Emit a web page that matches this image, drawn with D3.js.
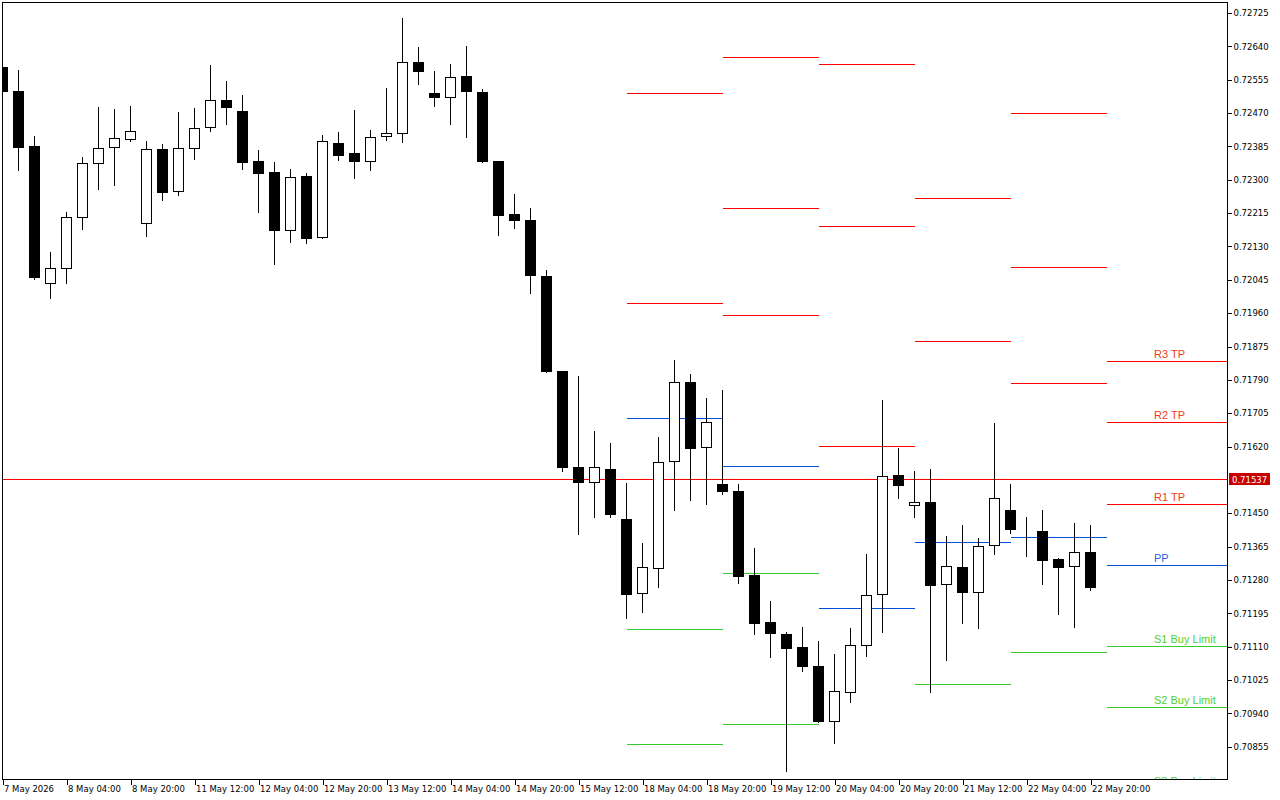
<!DOCTYPE html>
<html><head><meta charset="utf-8">
<script src="https://cdn.jsdelivr.net/npm/d3@7"></script>
<style>body{margin:0;background:#fff;overflow:hidden} svg{display:block}</style>
</head><body>
<svg id="c" width="1280" height="800"></svg>
<script>
// H4 candles, 7 May 2026 12:00 .. 22 May 2026 20:00 (index 0..68)
const opens  = [0.72587,0.72526,0.72386,0.72037,0.72075,0.72205,0.72343,0.72383,0.72404,0.72190,
                0.72378,0.72271,0.72381,0.72434,0.72503,0.72475,0.72348,0.72320,0.72172,0.72310,
                0.72154,0.72394,0.72368,0.72348,0.72411,0.72419,0.72600,0.72521,0.72511,0.72564,
                0.72524,0.72348,0.72213,0.72197,0.72055,0.71812,0.71568,0.71530,0.71563,0.71435,
                0.71247,0.71310,0.71583,0.71784,0.71619,0.71524,0.71507,0.71293,0.71173,0.71142,
                0.71109,0.71061,0.70920,0.70994,0.71114,0.71244,0.71547,0.71471,0.71479,0.71270,
                0.71313,0.71249,0.71369,0.71458,0.71405,0.71405,0.71333,0.71315,0.71351];
const highs  = [0.72592,0.72582,0.72414,0.72118,0.72220,0.72360,0.72488,0.72483,0.72490,0.72401,
                0.72394,0.72475,0.72485,0.72595,0.72554,0.72519,0.72378,0.72348,0.72330,0.72320,
                0.72417,0.72424,0.72480,0.72429,0.72536,0.72715,0.72641,0.72580,0.72598,0.72643,
                0.72534,0.72350,0.72266,0.72231,0.72072,0.71815,0.71802,0.71662,0.71632,0.71530,
                0.71377,0.71647,0.71843,0.71807,0.71746,0.71767,0.71527,0.71364,0.71229,0.71150,
                0.71163,0.71127,0.71094,0.71160,0.71349,0.71741,0.71619,0.71560,0.71565,0.71394,
                0.71423,0.71389,0.71683,0.71527,0.71443,0.71461,0.71338,0.71428,0.71423];
const lows   = [0.72524,0.72325,0.72047,0.71999,0.72037,0.72174,0.72276,0.72287,0.72399,0.72157,
                0.72248,0.72261,0.72353,0.72424,0.72442,0.72327,0.72218,0.72085,0.72141,0.72139,
                0.72151,0.72350,0.72304,0.72325,0.72401,0.72396,0.72544,0.72488,0.72442,0.72409,
                0.72345,0.72159,0.72177,0.72011,0.71810,0.71558,0.71397,0.71440,0.71440,0.71183,
                0.71198,0.71262,0.71458,0.71484,0.71474,0.71499,0.71272,0.71142,0.71084,0.70793,
                0.71048,0.70918,0.70864,0.70969,0.71086,0.71147,0.71489,0.71440,0.70994,0.71076,
                0.71170,0.71157,0.71346,0.71400,0.71341,0.71270,0.71193,0.71160,0.71254];
const closes = [0.72526,0.72383,0.72052,0.72075,0.72205,0.72343,0.72381,0.72406,0.72424,0.72378,
                0.72269,0.72381,0.72432,0.72503,0.72485,0.72345,0.72317,0.72172,0.72307,0.72151,
                0.72399,0.72363,0.72348,0.72409,0.72419,0.72600,0.72577,0.72511,0.72562,0.72526,
                0.72348,0.72210,0.72197,0.72057,0.71812,0.71568,0.71530,0.71568,0.71448,0.71244,
                0.71313,0.71581,0.71784,0.71616,0.71683,0.71507,0.71290,0.71170,0.71145,0.71106,
                0.71061,0.70920,0.70997,0.71114,0.71242,0.71545,0.71522,0.71479,0.71267,0.71315,
                0.71249,0.71366,0.71489,0.71410,0.71405,0.71331,0.71313,0.71351,0.71262];

// x-axis labels (candle index -> label)
const xTickIdx    = [0,4,8,12,16,20,24,28,32,36,40,44,48,52,56,60,64,68];
const xTickLabels = ["7 May 2026","8 May 04:00","8 May 20:00","11 May 12:00","12 May 04:00","12 May 20:00",
                     "13 May 12:00","14 May 04:00","14 May 20:00","15 May 12:00","18 May 04:00","18 May 20:00",
                     "19 May 12:00","20 May 04:00","20 May 20:00","21 May 12:00","22 May 04:00","22 May 20:00"];
// y-axis ticks
const yTicks = [0.72725,0.72640,0.72555,0.72470,0.72385,0.72300,0.72215,0.72130,0.72045,0.71960,0.71875,
                0.71790,0.71705,0.71620,0.71450,0.71365,0.71280,0.71195,0.71110,0.71025,0.70940,0.70855];

// daily pivot levels (start candle index of each day; null = off screen)
const pivotStart = [39,45,51,57,63,69];
const pivR3 = [null,   0.72613,0.72595,null,   0.72470,0.71838];
const pivR2 = [0.72521,0.72228,0.72182,0.72253,0.72078,0.71683];
const pivR1 = [0.71986,0.71955,0.71621,0.71889,0.71782,0.71474];
const pivPP = [0.71693,0.71570,0.71208,0.71377,0.71389,0.71318];
const pivS1 = [0.71155,0.71298,null,   0.71015,0.71096,0.71112];
const pivS2 = [0.70862,0.70913,null,   null,   null,   0.70956];
const pivS3 = [null,   null,   null,   null,   null,   0.70750];
const pivNames = ["R3 TP","R2 TP","R1 TP","PP","S1 Buy Limit","S2 Buy Limit","S3 Buy Limit"];

const lastPrice = 0.71537;

// ---------------------------------------------------------------
const svg = d3.select("#c");
const P = {l:2, t:2, r:1227, b:779};
const x = d3.scaleLinear().domain([0,68]).range([2.5,1090.5]);
const y = d3.scaleLinear().domain([0.70855,0.72725]).range([746.7,13]);
const py = v => Math.round(y(v)) + 0.5;

svg.append("rect").attr("width",1280).attr("height",800).attr("fill","#fff");
svg.append("defs").append("clipPath").attr("id","clip")
  .append("rect").attr("x",P.l).attr("y",P.t).attr("width",P.r-P.l).attr("height",P.b-P.t);

const g = svg.append("g").attr("clip-path","url(#clip)").attr("shape-rendering","crispEdges");

// pivot lines
const RED="#ff0000", BLUE="#0050dc", GREEN="#32cd32";
const levels = [pivR3,pivR2,pivR1,pivPP,pivS1,pivS2,pivS3];
const levelCol = [RED,RED,RED,BLUE,GREEN,GREEN,GREEN];
const segs = [];
levels.forEach((arr,k)=>arr.forEach((v,d)=>{
  if(v==null) return;
  const x0 = x(pivotStart[d]);
  const x1 = d+1<pivotStart.length ? x(pivotStart[d+1]) : P.r;
  segs.push({v,x0,x1,col:levelCol[k],k,d});
}));
g.selectAll("line.piv").data(segs).join("line").attr("class","piv")
  .attr("x1",s=>s.x0).attr("x2",s=>s.x1).attr("y1",s=>py(s.v)).attr("y2",s=>py(s.v))
  .attr("stroke",s=>s.col).attr("stroke-width",1);

// current price line
g.append("line").attr("x1",P.l).attr("x2",P.r).attr("y1",py(lastPrice)).attr("y2",py(lastPrice))
  .attr("stroke","#ff0000").attr("stroke-width",1);

// candles
const idx = d3.range(opens.length);
const cg = g.selectAll("g.cdl").data(idx).join("g").attr("class","cdl");
cg.append("line").attr("x1",i=>x(i)).attr("x2",i=>x(i))
  .attr("y1",i=>py(highs[i])).attr("y2",i=>py(lows[i])).attr("stroke","#000");
cg.append("rect")
  .attr("x",i=>x(i)-5).attr("width",10)
  .attr("y",i=>py(Math.max(opens[i],closes[i])))
  .attr("height",i=>py(Math.min(opens[i],closes[i]))-py(Math.max(opens[i],closes[i])))
  .attr("fill",i=>closes[i]<opens[i]?"#000":"#fff").attr("stroke","#000");

// pivot labels on the last day
const labCol = ["#f23a1a","#f23a1a","#f23a1a","#2a62e0","#55d02a","#55d02a","#55d02a"];
const lab = segs.filter(s=>s.d===pivotStart.length-1);
svg.append("g").attr("clip-path","url(#clip)").selectAll("text").data(lab).join("text")
  .attr("x",1154).attr("y",s=>py(s.v)-4)
  .attr("font-family","Liberation Sans, Arial, sans-serif").attr("font-size",11)
  .attr("fill",s=>labCol[s.k]).text(s=>pivNames[s.k]);

// frame
svg.append("rect").attr("x",P.l+0.5).attr("y",P.t+0.5).attr("width",P.r-P.l).attr("height",P.b-P.t)
  .attr("fill","none").attr("stroke","#000").attr("shape-rendering","crispEdges");

// y axis
const ya = svg.append("g").attr("transform",`translate(${P.r+0.5},0)`)
  .call(d3.axisRight(y).tickValues(yTicks).tickSize(4).tickPadding(2).tickFormat(d3.format(".5f")));
ya.select(".domain").remove();
ya.selectAll("line").attr("shape-rendering","crispEdges");
ya.selectAll("text").attr("font-family","DejaVu Sans, sans-serif").attr("font-size",8.5).attr("fill","#000");

// price tag
const tagY = py(lastPrice);
svg.append("rect").attr("x",1229).attr("y",tagY-6.5).attr("width",41).attr("height",12).attr("fill","#c80000");
svg.append("text").attr("x",1232).attr("y",tagY+3.5).attr("font-family","DejaVu Sans, sans-serif")
  .attr("font-size",8.5).attr("fill","#fff").text(d3.format(".5f")(lastPrice));

// x axis
const xa = svg.append("g").attr("transform",`translate(0,${P.b+0.5})`)
  .call(d3.axisBottom(x).tickValues(xTickIdx).tickSize(5).tickFormat((d,i)=>xTickLabels[i]));
xa.select(".domain").remove();
xa.selectAll("line").attr("shape-rendering","crispEdges");
xa.selectAll("text").attr("text-anchor","start").attr("x",1).attr("y",6).attr("dy","0.71em")
  .attr("font-family","DejaVu Sans, sans-serif").attr("font-size",8.5).attr("fill","#000");
</script>
</body></html>
